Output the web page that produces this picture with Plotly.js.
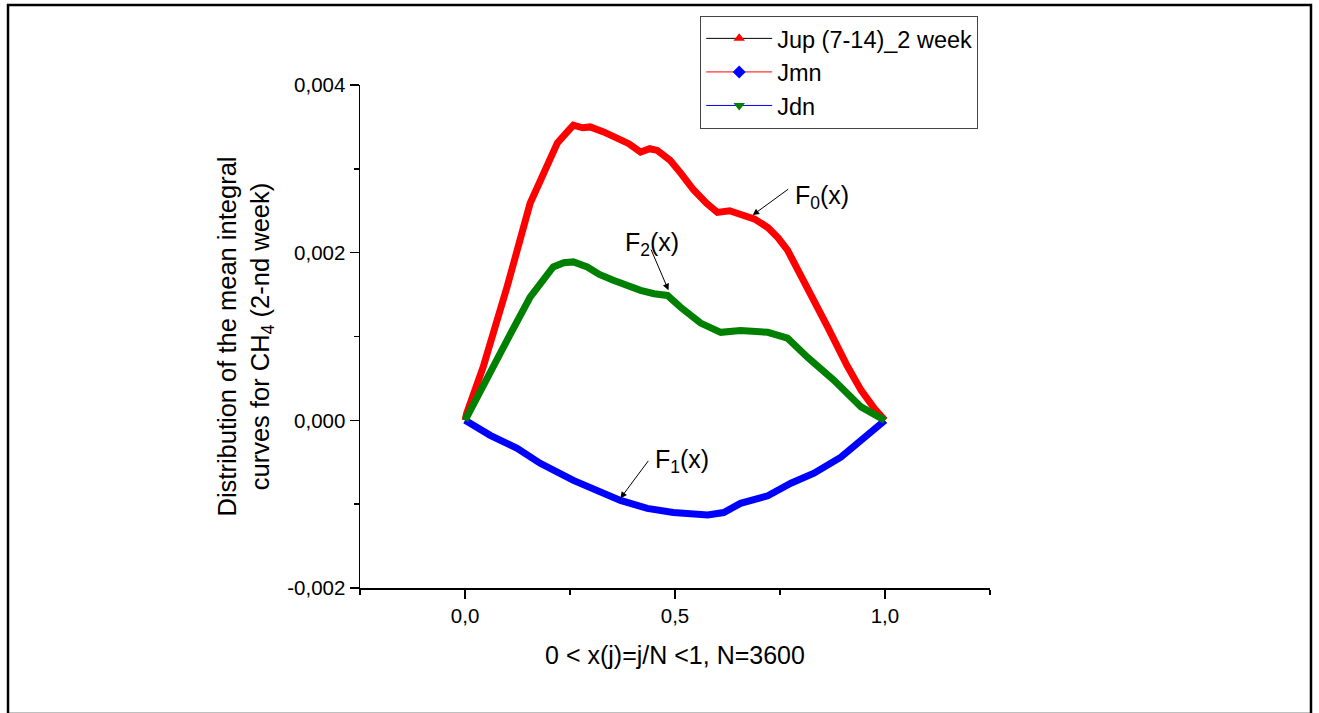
<!DOCTYPE html>
<html>
<head>
<meta charset="utf-8">
<script src="https://cdn.plot.ly/plotly-3.0.1.min.js"></script>
<style>
  html, body { margin: 0; padding: 0; background: #fff; }
  #chart { width: 1319px; height: 713px; }
</style>
</head>
<body>
<div id="chart"></div>
<script>
// F0(x) - red curve
const f0X = [0, 0.004, 0.043, 0.100, 0.155, 0.200, 0.220, 0.245, 0.258, 0.280, 0.298, 0.330, 0.353, 0.390, 0.418, 0.440, 0.458, 0.489, 0.515, 0.544, 0.575, 0.601, 0.630, 0.656, 0.690, 0.721, 0.745, 0.768, 0.816, 0.864, 0.910, 0.943, 0.975, 1.0];
const f0Y = [0, 0.000084, 0.000633, 0.00159, 0.00259, 0.00310, 0.00331, 0.00345, 0.00352, 0.00349, 0.00350, 0.00344, 0.00338, 0.00330, 0.00320, 0.00324, 0.00322, 0.00310, 0.00294, 0.00275, 0.00259, 0.00248, 0.00250, 0.00245, 0.00240, 0.00230, 0.00218, 0.00203, 0.00159, 0.00111, 0.00065, 0.00036, 0.00014, 0];

// F1(x) - blue curve
const f1X = [0, 0.060, 0.124, 0.179, 0.258, 0.322, 0.370, 0.434, 0.496, 0.578, 0.616, 0.656, 0.721, 0.776, 0.831, 0.895, 0.950, 1.0];
const f1Y = [0, -0.000179, -0.000334, -0.000513, -0.000716, -0.000860, -0.000955, -0.00105, -0.00110, -0.00113, -0.00110, -0.00099, -0.00090, -0.00075, -0.00063, -0.00044, -0.00021, 0];

// F2(x) - green curve
const f2X = [0, 0.043, 0.100, 0.155, 0.210, 0.235, 0.258, 0.291, 0.320, 0.353, 0.390, 0.418, 0.450, 0.482, 0.513, 0.561, 0.609, 0.656, 0.721, 0.768, 0.816, 0.878, 0.943, 1.0];
const f2Y = [0, 0.000394, 0.000955, 0.00147, 0.00183, 0.00188, 0.00189, 0.00183, 0.00174, 0.00167, 0.00159, 0.00155, 0.00151, 0.00149, 0.00135, 0.00116, 0.00105, 0.00107, 0.00105, 0.00098, 0.00075, 0.00048, 0.00016, 0];

// Legend labels
const legendNames = ["Jup (7-14)_2 week", "Jmn", "Jdn"];

// Tick values / labels
const xTickVals = [0, 0.5, 1.0];
const xTickText = ["0,0", "0,5", "1,0"];
const yTickVals = [-0.002, 0, 0.002, 0.004];
const yTickText = ["-0,002", "0,000", "0,002", "0,004"];

const FONT = "Arial, 'Liberation Sans', sans-serif";

const traces = [
  { x: f0X, y: f0Y, mode: "lines", line: { color: "#ff0000", width: 7 }, showlegend: false, hoverinfo: "skip" },
  { x: f1X, y: f1Y, mode: "lines", line: { color: "#0000ff", width: 7 }, showlegend: false, hoverinfo: "skip" },
  { x: f2X, y: f2Y, mode: "lines", line: { color: "#008000", width: 7 }, showlegend: false, hoverinfo: "skip" },
  // legend entries (as in the original figure)
  { x: [null], y: [null], name: legendNames[0], mode: "lines+markers",
    line: { color: "#000000", width: 1 }, marker: { symbol: "triangle-up", color: "#ff0000", size: 10 } },
  { x: [null], y: [null], name: legendNames[1], mode: "lines+markers",
    line: { color: "#ff0000", width: 1 }, marker: { symbol: "diamond", color: "#0000ff", size: 10 } },
  { x: [null], y: [null], name: legendNames[2], mode: "lines+markers",
    line: { color: "#0000ff", width: 1 }, marker: { symbol: "triangle-down", color: "#008000", size: 10 } }
];

const layout = {
  width: 1319,
  height: 713,
  margin: { l: 360, r: 329, t: 85, b: 125, autoexpand: false },
  paper_bgcolor: "#ffffff",
  plot_bgcolor: "#ffffff",
  font: { family: FONT, color: "#000000", size: 20 },
  separators: ", ",
  showlegend: true,
  legend: {
    x: 0.54, y: 1.138, xanchor: "left", yanchor: "top",
    bgcolor: "#ffffff", bordercolor: "#444444", borderwidth: 1,
    font: { family: FONT, size: 23.5, color: "#000000" },
    itemwidth: 66,
    tracegroupgap: 0
  },
  xaxis: {
    range: [-0.2502, 1.2502],
    showgrid: false, zeroline: false,
    showline: true, linecolor: "#000000", linewidth: 1.5,
    ticks: "outside", ticklen: 9, tickwidth: 1.5, tickcolor: "#000000",
    tickmode: "array", tickvals: xTickVals, ticktext: xTickText,
    minor: { ticks: "outside", ticklen: 5, tickwidth: 1.5, tickcolor: "#000000", tickmode: "linear", tick0: 0, dtick: 0.25 },
    tickfont: { family: FONT, size: 20.5 },
    title: { text: "0 < x(j)=j/N <1, N=3600", font: { family: FONT, size: 25 }, standoff: 20 },
    automargin: false
  },
  yaxis: {
    range: [-0.002, 0.004],
    showgrid: false, zeroline: false,
    showline: true, linecolor: "#000000", linewidth: 1.5,
    ticks: "outside", ticklen: 9, tickwidth: 1.5, tickcolor: "#000000",
    tickmode: "array", tickvals: yTickVals, ticktext: yTickText,
    minor: { ticks: "outside", ticklen: 5, tickwidth: 1.5, tickcolor: "#000000", tickmode: "linear", tick0: 0, dtick: 0.001 },
    tickfont: { family: FONT, size: 20.5 },
    title: { text: "Distribution of the mean integral<br>curves for CH<sub>4</sub> (2-nd week)", font: { family: FONT, size: 25.5 }, standoff: 10 },
    automargin: false
  },
  annotations: [
    { x: 0.685, y: 0.002448, xref: "x", yref: "y", text: "", showarrow: true, arrowhead: 2, arrowsize: 1.3, arrowwidth: 1, arrowcolor: "#000", ax: 37, ay: -27 },
    { x: 0.849, y: 0.002665, xref: "x", yref: "y", text: "F<sub>0</sub>(x)", showarrow: false, font: { family: FONT, size: 25 } },
    { x: 0.4845, y: 0.001552, xref: "x", yref: "y", text: "", showarrow: true, arrowhead: 2, arrowsize: 1.3, arrowwidth: 1, arrowcolor: "#000", ax: -18, ay: -42 },
    { x: 0.446, y: 0.002103, xref: "x", yref: "y", text: "F<sub>2</sub>(x)", showarrow: false, font: { family: FONT, size: 25 } },
    { x: 0.370, y: -0.000931, xref: "x", yref: "y", text: "", showarrow: true, arrowhead: 2, arrowsize: 1.3, arrowwidth: 1, arrowcolor: "#000", ax: 29, ay: -39 },
    { x: 0.5175, y: -0.000488, xref: "x", yref: "y", text: "F<sub>1</sub>(x)", showarrow: false, font: { family: FONT, size: 25 } }
  ],
  shapes: [
    { type: "rect", xref: "paper", yref: "paper", x0: -0.5587, x1: 1.5095, y0: -0.2505, y1: 1.159,
      line: { color: "#000000", width: 2.5 }, fillcolor: "rgba(0,0,0,0)", layer: "below" }
  ]
};

Plotly.newPlot("chart", traces, layout, { displayModeBar: false, staticPlot: true });
</script>
</body>
</html>
